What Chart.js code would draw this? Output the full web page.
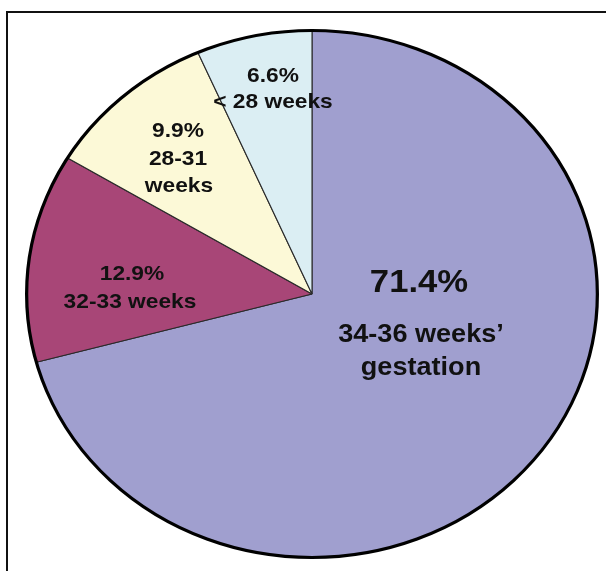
<!DOCTYPE html>
<html>
<head>
<meta charset="utf-8">
<script src="https://cdn.jsdelivr.net/npm/chart.js@4"></script>
<style>
  html, body { margin: 0; padding: 0; background: #fff; }
  #wrap { position: relative; width: 606px; height: 571px; }
  #frame {
    position: absolute; left: 6px; top: 11px; right: 0; bottom: 0;
    border-top: 2px solid #111; border-left: 2px solid #111;
  }
  #myChart { position: absolute; left: 0; top: 0; }
</style>
</head>
<body>
<div id="wrap">
  <div id="frame"></div>
  <canvas id="myChart" width="606" height="571"></canvas>
</div>
<script>
const categories = ['34-36 weeks\u2019 gestation', '32-33 weeks', '28-31 weeks', '< 28 weeks'];
const shares = [71.4, 12.9, 9.9, 6.6];
const sliceColors = ['#A09FCF', '#A84677', '#FCF9D7', '#DBEEF3'];

// text lines inside each slice, and where they sit (baseline, page px)
const labelLines = [
  ['71.4%', '34-36 weeks\u2019', 'gestation'],
  ['12.9%', '32-33 weeks'],
  ['9.9%', '28-31', 'weeks'],
  ['6.6%', '< 28 weeks']
];
const labelSpots = [
  [[419, 292, 32], [421, 342, 25], [421, 375, 25]],
  [[132, 280, 21], [130, 308, 21]],
  [[178, 137, 21], [178, 165, 21], [179, 192, 21]],
  [[273, 82, 21], [273, 108, 21]]
];

// the source picture is a little wider than tall
const stretchX = 1.083;

const ctx = document.getElementById('myChart');

const squashPlugin = {
  id: 'squash',
  beforeDatasetsDraw(chart) {
    const arc = chart.getDatasetMeta(0).data[0];
    const c = chart.ctx;
    c.save();
    c.translate(arc.x, 0);
    c.scale(stretchX, 1);
    c.translate(-arc.x, 0);
  },
  afterDatasetsDraw(chart) {
    const arc = chart.getDatasetMeta(0).data[0];
    const c = chart.ctx;
    c.beginPath();
    c.arc(arc.x, arc.y, arc.outerRadius, 0, Math.PI * 2);
    c.lineWidth = 3;
    c.strokeStyle = '#000';
    c.stroke();
    c.restore();

    c.save();
    c.fillStyle = '#111';
    c.textAlign = 'center';
    c.textBaseline = 'alphabetic';
    labelLines.forEach((lines, i) => {
      lines.forEach((txt, j) => {
        const [x, y, size] = labelSpots[i][j];
        c.save();
        c.translate(x, y);
        c.scale(stretchX, 1);
        c.font = 'bold ' + size + 'px "Liberation Sans", Arial, sans-serif';
        c.fillText(txt, 0, 0);
        c.restore();
      });
    });
    c.restore();
  }
};

new Chart(ctx, {
  type: 'pie',
  data: {
    labels: categories,
    datasets: [{
      data: shares,
      backgroundColor: sliceColors,
      borderColor: '#2a2a2a',
      borderWidth: 1
    }]
  },
  options: {
    responsive: false,
    animation: false,
    layout: {
      padding: { left: 48, right: 30, top: 30, bottom: 13 }
    },
    plugins: {
      legend: { display: false },
      tooltip: { enabled: false }
    }
  },
  plugins: [squashPlugin]
});
</script>
</body>
</html>
